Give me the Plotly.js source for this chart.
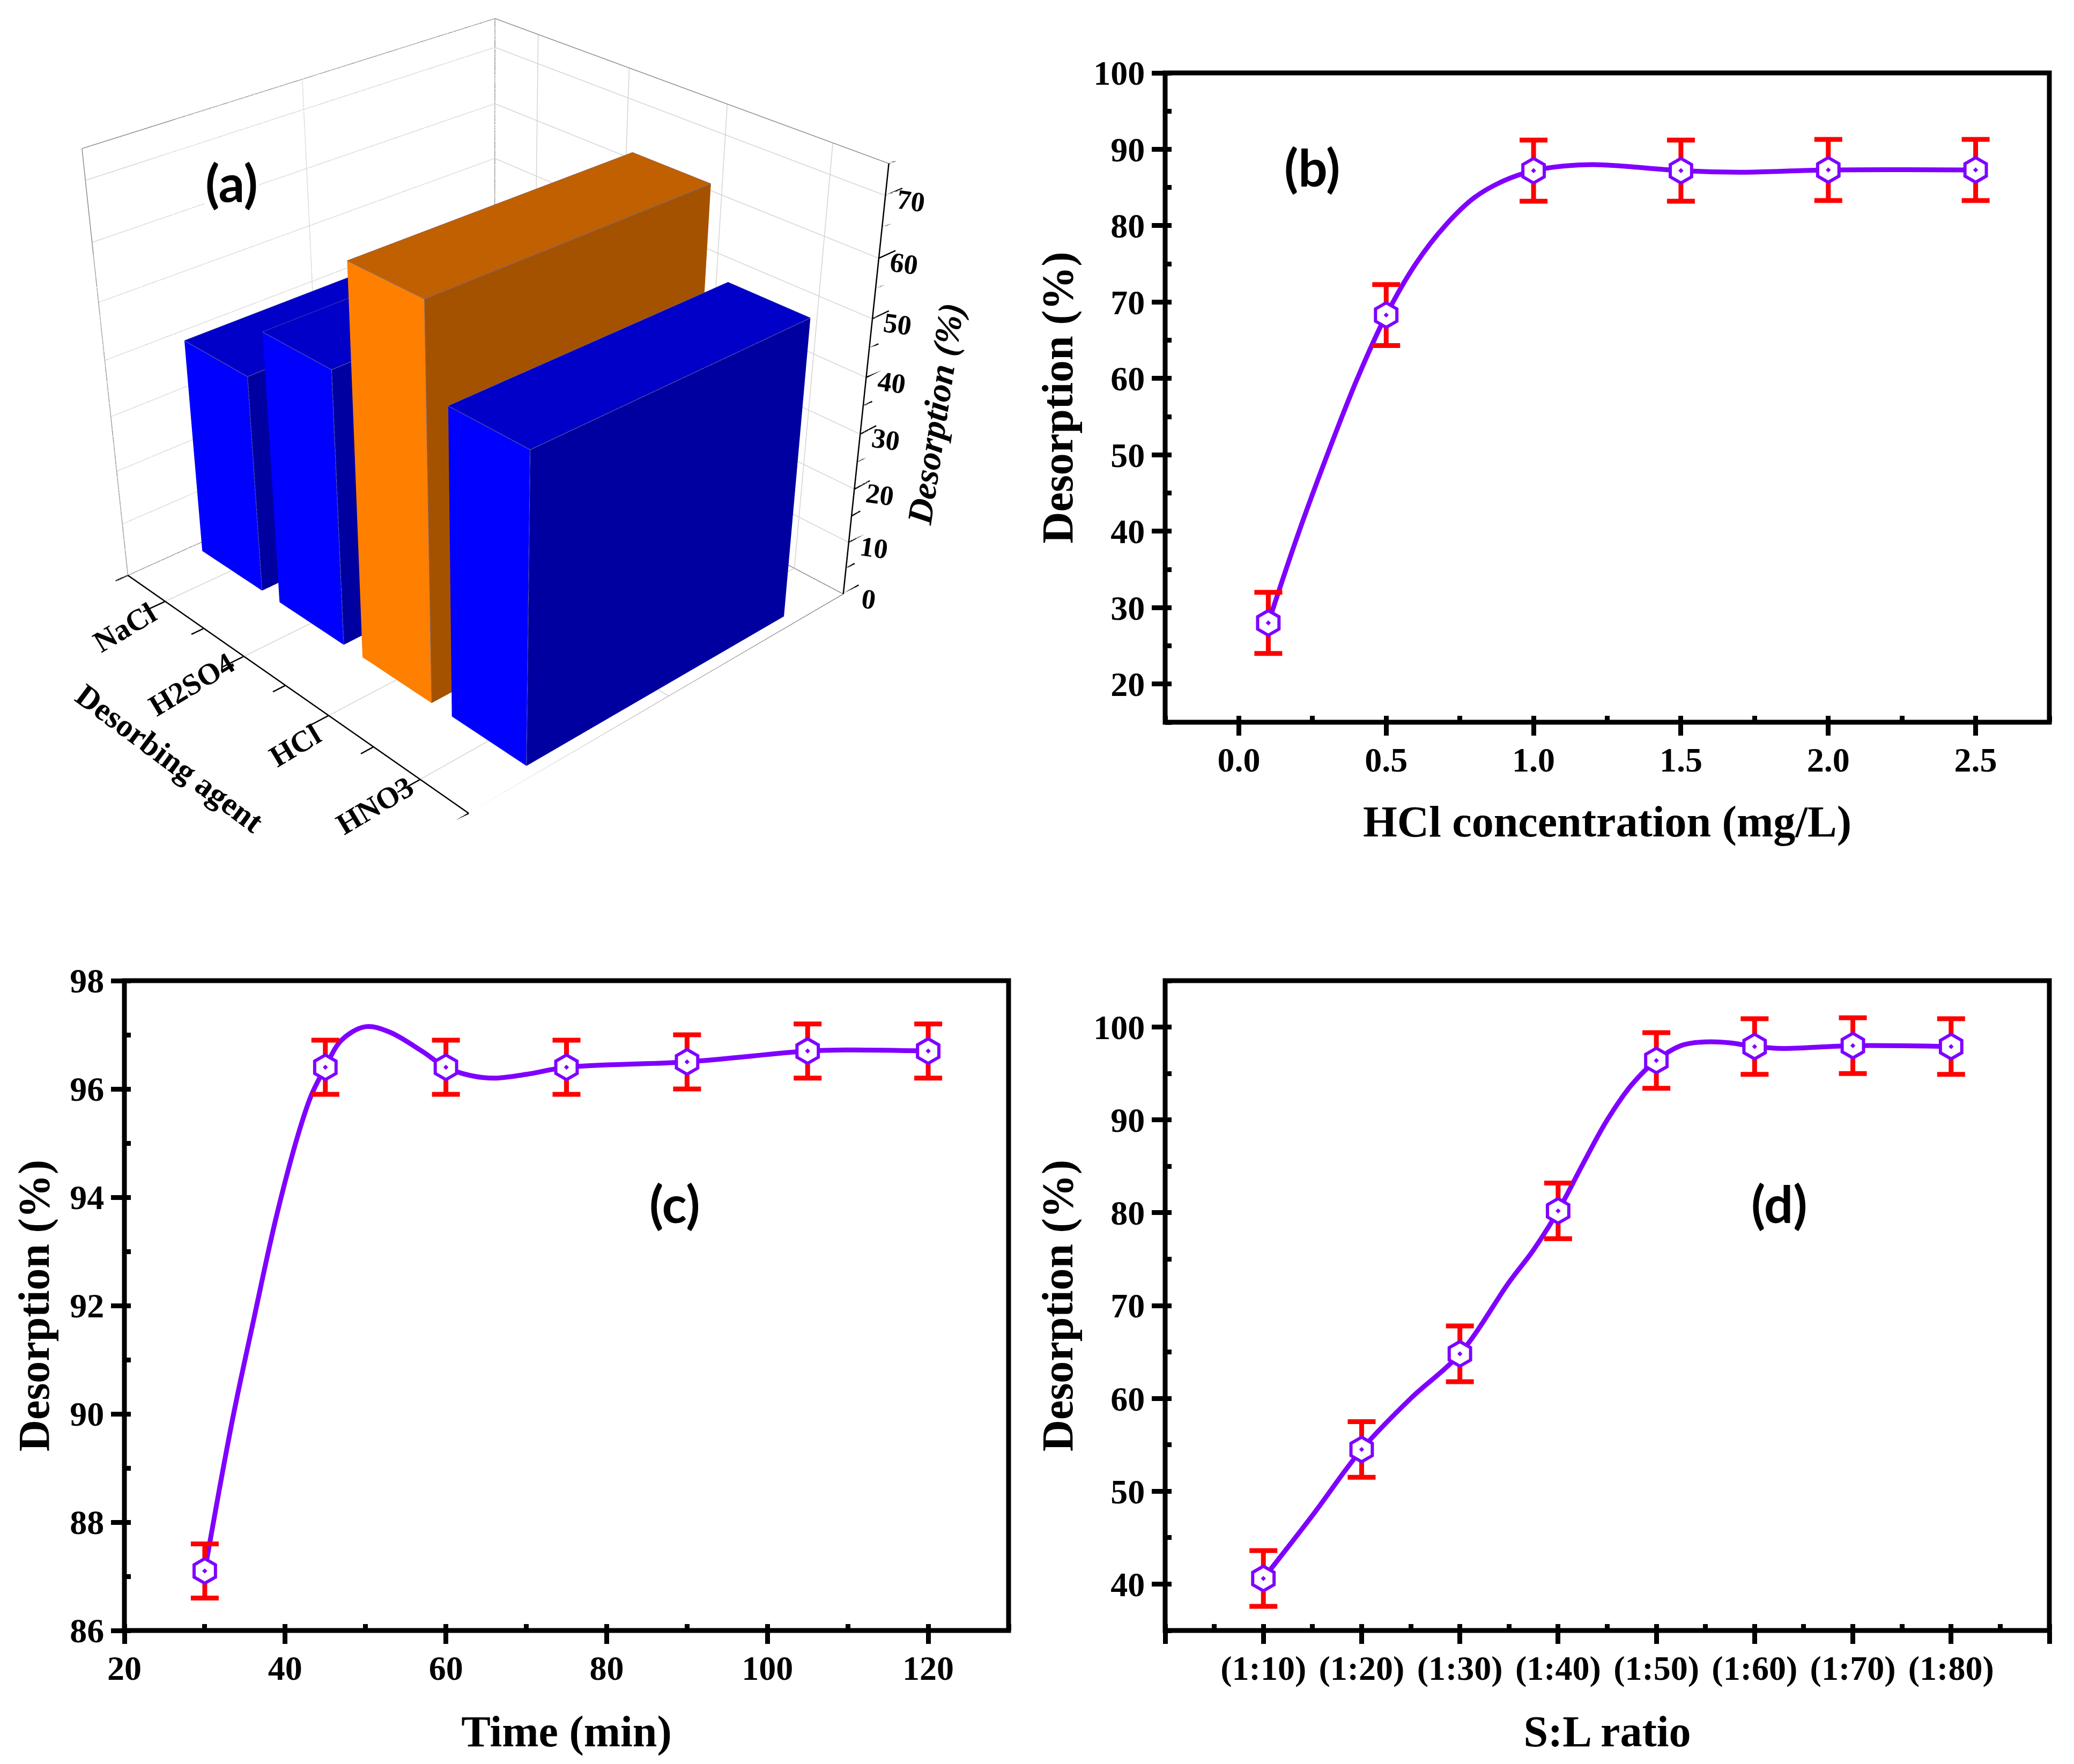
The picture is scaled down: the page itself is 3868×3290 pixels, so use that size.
<!DOCTYPE html>
<html><head><meta charset="utf-8">
<script src="https://cdn.plot.ly/plotly-3.0.1.min.js"></script>
<style>html,body{margin:0;padding:0;background:#fff;overflow:hidden;width:3868px;height:3290px}
#plot{position:absolute;left:0;top:-631px;width:3868px;height:3921px}</style>
</head><body><div id="plot"></div>
<script>
// ---------- data ----------
const agents = ['NaCl','H2SO4','HCl','HNO3'];
const agentPos = [1,2,3,4];
const desorptionA = [39.6,49,68,53.4];
const barColors = [['#0000FF','#0000A0','#0000C8'],['#0000FF','#0000A0','#0000C8'],['#FF8000','#A55200','#C06000'],['#0000FF','#0000A0','#0000C8']];
const zTicks = [0,10,20,30,40,50,60,70];
const zMinor = [5,15,25,35,45,55,65,75];

const concB = [0.1,0.5,1.0,1.5,2.0,2.5];
const desB  = [28,68.3,87.2,87.2,87.3,87.3];
const errB  = [4,4,4,4,4,4];
const curveBx = [0.1,0.2,0.3,0.4,0.5,0.6,0.7,0.8,0.9,1.0,1.1,1.2,1.3,1.5,1.7,2.0,2.5];
const curveBy = [28,39.5,50,59.8,68.3,75,80,83.7,85.9,87.2,87.8,88,87.8,87.2,87,87.3,87.3];

const timeC = [30,45,60,75,90,105,120];
const desC  = [87.1,96.4,96.4,96.4,96.5,96.7,96.7];
const errC  = [0.5,0.5,0.5,0.5,0.5,0.5,0.5];
const curveCx = [30,33.4,36.1,38.9,41.7,43.3,45,47,50,53,57,60,63,66,70,75,90,105,110,120];
const curveCy = [87.1,89.86,91.75,93.64,95.2,95.9,96.4,96.9,97.15,97.05,96.7,96.4,96.25,96.2,96.27,96.4,96.5,96.7,96.72,96.7];

const ratioLabels = ['','(1:10)','(1:20)','(1:30)','(1:40)','(1:50)','(1:60)','(1:70)','(1:80)',''];
const ratioPos = [0,1,2,3,4,5,6,7,8,9];
const ratioIdx = [1,2,3,4,5,6,7,8];
const desD = [40.6,54.5,64.8,80.2,96.4,97.9,98,97.9];
const errD = [3,3,3,3,3,3,3,3];
const curveDx = [1,1.5,2,2.5,3,3.5,3.75,4,4.25,4.5,4.75,5,5.25,5.5,5.75,6,6.3,7,8];
const curveDy = [40.6,47.4,54.5,60,64.8,72.5,76,80.2,85.2,90,93.8,96.4,98,98.4,98.3,97.9,97.7,98,97.9];

// ---------- page geometry ----------
const W=3868, H=3921, OFF=631;
const fx=x=>x/W, fy=y=>1-(y+OFF)/H;
const SERIF='"Liberation Serif","Times New Roman",serif';
const PURPLE='#7F00FF', RED='#FF0000';
const panels={b:[2173,3822,136,1347],c:[232,1881,1829,3041],d:[2173,3822,1829,3041]};

// ---------- 3D helpers ----------
const XR=[0.5,4.5], YW=[0.01,0.958], ZR=[0,75], BAR_W=0.78, BAR_Y=[0.165,0.82];
function segs(list){const x=[],y=[],z=[];list.forEach(s=>{x.push(s[0],s[3],null);y.push(s[1],s[4],null);z.push(s[2],s[5],null);});return {x,y,z};}
function line3(list,color,width){const s=segs(list);return {type:'scatter3d',mode:'lines',x:s.x,y:s.y,z:s.z,line:{color,width},hoverinfo:'skip',showlegend:false,scene:'scene'};}
function bar3(xc,h,cols){
  const x0=xc-BAR_W/2,x1=xc+BAR_W/2,y0=BAR_Y[0],y1=BAR_Y[1];
  const X=[x0,x1,x1,x0,x0,x1,x1,x0],Y=[y0,y0,y1,y1,y0,y0,y1,y1],Z=[0,0,0,0,h,h,h,h];
  const I=[0,0, 1,1, 4,4, 3,3, 0,0, 0,0];
  const J=[1,5, 2,6, 5,6, 2,6, 3,7, 1,2];
  const K=[5,4, 6,5, 6,7, 6,7, 7,4, 2,3];
  const F=[cols[0],cols[0],cols[1],cols[1],cols[2],cols[2],cols[1],cols[1],cols[1],cols[1],cols[1],cols[1]];
  return {type:'mesh3d',x:X,y:Y,z:Z,i:I,j:J,k:K,facecolor:F,flatshading:true,
    lighting:{ambient:1,diffuse:0,specular:0,fresnel:0,roughness:1},hoverinfo:'skip',showscale:false,scene:'scene'};
}
const traces=[];
agentPos.forEach((p,i)=>traces.push(bar3(p,desorptionA[i],barColors[i])));
// bar edges
const edges=[];
agentPos.forEach((p,i)=>{const x0=p-BAR_W/2,x1=p+BAR_W/2,y0=BAR_Y[0],y1=BAR_Y[1],h=desorptionA[i];
  edges.push([x0,y0,h,x1,y0,h],[x1,y0,h,x1,y1,h],[x1,y1,h,x0,y1,h],[x0,y1,h,x0,y0,h],[x1,y0,0,x1,y0,h]);});
traces.push(line3(edges,'#6f6f9f',2));
// grid
const grid=[], YM=(YW[0]+YW[1])/2;
zTicks.slice(1).forEach(z=>{grid.push([XR[0],YW[0],z,XR[0],YW[1],z]);grid.push([XR[0],YW[1],z,XR[1],YW[1],z]);});
agentPos.forEach(x=>{grid.push([x,YW[0],0,x,YW[1],0]);grid.push([x,YW[1],0,x,YW[1],ZR[1]]);});
grid.push([XR[0],YM,0,XR[1],YM,0]);grid.push([XR[0],YM,0,XR[0],YM,ZR[1]]);
traces.push(line3(grid,'#d4d4d4',3));
// frame
traces.push(line3([[XR[0],YW[0],0,XR[0],YW[0],ZR[1]],[XR[0],YW[0],ZR[1],XR[0],YW[1],ZR[1]],[XR[0],YW[1],ZR[1],XR[1],YW[1],ZR[1]],[XR[0],YW[1],0,XR[0],YW[1],ZR[1]],
  [XR[0],YW[0],0,XR[0],YW[1],0],[XR[0],YW[1],0,XR[1],YW[1],0],[XR[1],YW[0],0,XR[1],YW[1],0]],'#8c8c8c',3));
// axes + ticks
const axesSegs=[[XR[0],YW[0],0,XR[1],YW[0],0],[XR[1],YW[1],0,XR[1],YW[1],ZR[1]]];
agentPos.forEach(x=>axesSegs.push([x,YW[0],0,x,YW[0]-0.05,0]));
[0.5,1.5,2.5,3.5,4.5].forEach(x=>axesSegs.push([x,YW[0],0,x,YW[0]-0.028,0]));
zTicks.forEach(z=>axesSegs.push([XR[1],YW[1],z,XR[1],YW[1]+0.045,z]));
zMinor.forEach(z=>axesSegs.push([XR[1],YW[1],z,XR[1],YW[1]+0.025,z]));
traces.push(line3(axesSegs,'#000000',5));

// ---------- 2D traces ----------
function addPanel(cx,cy,px,py,err,xa,ya){
  traces.push({type:'scatter',mode:'lines',x:cx,y:cy,xaxis:xa,yaxis:ya,line:{color:PURPLE,width:9,shape:'spline',smoothing:1},hoverinfo:'skip',showlegend:false});
  traces.push({type:'scatter',mode:'markers',x:px,y:py,xaxis:xa,yaxis:ya,showlegend:false,hoverinfo:'skip',
    error_y:{type:'data',array:err,visible:true,color:RED,thickness:9,width:26},
    marker:{symbol:'hexagon-dot',size:46,color:'#FFFFFF',line:{color:PURPLE,width:6}}});
}
addPanel(curveBx,curveBy,concB,desB,errB,'x','y');
addPanel(curveCx,curveCy,timeC,desC,errC,'x2','y2');
addPanel(curveDx,curveDy,ratioIdx,desD,errD,'x3','y3');

const TICKF={family:SERIF,size:64,color:'#000',weight:'bold'};
const TITLEF={family:SERIF,size:82,color:'#000',weight:'bold'};
function xAxis(dom,range,anchor,extra){return Object.assign({domain:[fx(dom[0]),fx(dom[1])],range,anchor,showgrid:false,zeroline:false,showline:false,
  ticks:'outside',ticklen:24,tickwidth:9,tickcolor:'#000',tickfont:TICKF,ticklabelstandoff:-10},extra);}
function yAxis(dom,range,anchor,extra){return Object.assign({domain:[fy(dom[3]),fy(dom[2])],range,anchor,showgrid:false,zeroline:false,showline:false,
  ticks:'outside',ticklen:24,tickwidth:9,tickcolor:'#000',tickfont:TICKF,
  title:{text:'Desorption (%)',font:TITLEF,standoff:11}},extra);}
const minor=(d,t0)=>({tickmode:'linear',dtick:d,tick0:t0||0,ticks:'inside',ticklen:12,tickwidth:9,tickcolor:'#000',showgrid:false});

const panelFrame=(xr,yr)=>({type:'rect',xref:xr+' domain',yref:yr+' domain',x0:0,x1:1,y0:0,y1:1,line:{color:'#000',width:9},layer:'above'});
function paperNote(text,x,y){return {xref:'paper',yref:'paper',x:fx(x),y:fy(y),text:'<b>'+text+'</b>',showarrow:false,
  font:{family:'Lato,"Noto Sans",sans-serif',size:96,color:'#000'},xanchor:'center',yanchor:'middle'};}

// scene annotations (real text tied to the scene's axes)
const sAnn=[];
const tf=(s)=>({family:SERIF,size:s,color:'#000',weight:'bold'});
const catShiftX=[-76,-98,-63,-85], catShiftY=[-48,-52,-55,-48];
agentPos.forEach((x,i)=>sAnn.push({x,y:YW[0],z:0,text:agents[i],showarrow:false,textangle:-31,font:tf(56),xshift:catShiftX[i],yshift:catShiftY[i]}));
zTicks.forEach(z=>sAnn.push({x:XR[1],y:YW[1],z,text:String(z),showarrow:false,textangle:8,font:tf(52),xshift:47,yshift:-10}));
sAnn.push({x:XR[1],y:YW[1],z:35,text:'<i>Desorption (%)</i>',showarrow:false,textangle:-81.5,font:tf(66),xshift:135,yshift:-15});
sAnn.push({x:2.5,y:YW[0],z:0,text:'Desorbing agent',showarrow:false,textangle:36.7,font:tf(60),xshift:-217,yshift:-136});

const layout={width:W,height:H,paper_bgcolor:'#fff',plot_bgcolor:'rgba(0,0,0,0)',showlegend:false,hovermode:false,dragmode:false,
  margin:{l:0,r:0,t:0,b:0,pad:0},
  scene:{domain:{x:[fx(3.3),fx(1823.3)],y:[fy(2800),1]},aspectmode:'manual',aspectratio:{x:1,y:1.1648,z:0.8945},
    camera:{eye:{x:2.674,y:-2.468,z:1.9608},center:{x:0,y:0,z:-0.44725},up:{x:0,y:0,z:1},projection:{type:'perspective'}},
    xaxis:{visible:false,range:XR},yaxis:{visible:false,range:[-0.06,1.06]},zaxis:{visible:false,range:ZR},
    bgcolor:'rgba(0,0,0,0)',annotations:sAnn,dragmode:false},
  xaxis:xAxis(panels.b,[-0.25,2.75],'y',{tickmode:'linear',tick0:0,dtick:0.5,tickformat:'.1f',minor:minor(0.25),
    title:{text:'HCl concentration (mg/L)',font:TITLEF,standoff:50}}),
  yaxis:yAxis(panels.b,[15,100],'x',{tickmode:'linear',tick0:0,dtick:10,minor:minor(5)}),
  xaxis2:xAxis(panels.c,[20,130],'y2',{tickmode:'linear',tick0:0,dtick:20,minor:minor(10),
    title:{text:'Time (min)',font:TITLEF,standoff:53}}),
  yaxis2:yAxis(panels.c,[86,98],'x2',{tickmode:'linear',tick0:0,dtick:2,minor:minor(1)}),
  xaxis3:xAxis(panels.d,[0,9],'y3',{tickmode:'array',tickvals:ratioPos,ticktext:ratioLabels,minor:minor(0.5),
    title:{text:'S:L ratio',font:TITLEF,standoff:53}}),
  yaxis3:yAxis(panels.d,[35,105],'x3',{tickmode:'linear',tick0:0,dtick:10,minor:minor(5)}),
  shapes:[panelFrame('x','y'),panelFrame('x2','y2'),panelFrame('x3','y3')],
  annotations:[paperNote('(a)',432,340),paperNote('(b)',2447,310),paperNote('(c)',1258,2243),paperNote('(d)',3318,2243)]
};
layout.annotations[0].bgcolor='#fff';
Plotly.newPlot('plot',traces,layout,{displayModeBar:false});
</script></body></html>
